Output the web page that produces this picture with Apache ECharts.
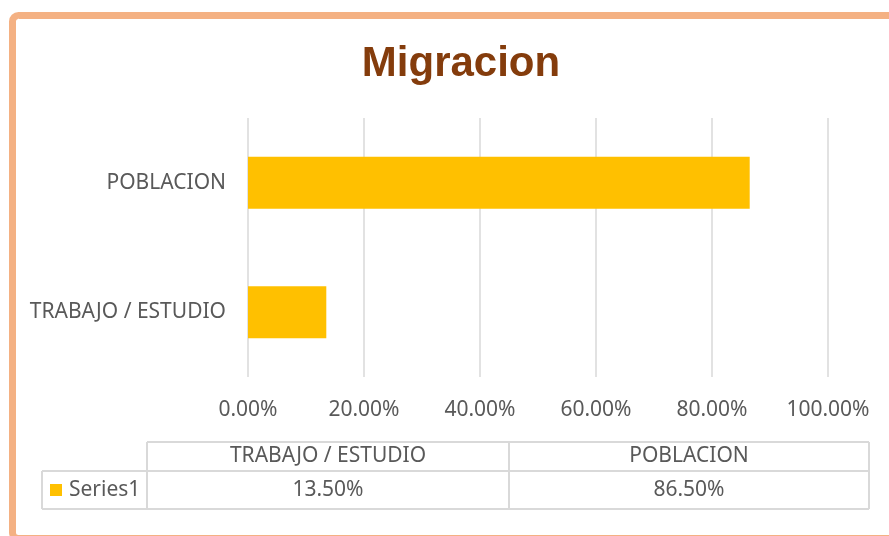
<!DOCTYPE html>
<html lang="es">
<head>
<meta charset="UTF-8">
<title>Migracion</title>
<script src="https://cdn.jsdelivr.net/npm/echarts@6/dist/echarts.min.js"></script>
<style>
  html, body { margin: 0; padding: 0; background: #fff; }
  #chart { width: 889px; height: 536px; }
</style>
</head>
<body>
<div id="chart"></div>
<script>
var categories = ['TRABAJO / ESTUDIO', 'POBLACION'];
var values = [0.135, 0.865];
var seriesName = 'Series1';
var tickValues = [0, 0.2, 0.4, 0.6, 0.8, 1];

function pct(v) { return (v * 100).toFixed(2) + '%'; }

var chart = echarts.init(document.getElementById('chart'));

// data table under the chart
var tbl = { x0: 42, x1: 147, x2: 509, x3: 869, y0: 442, y1: 471, y2: 509 };
var lineCol = '#D9D9D9';
var font = '"Noto Sans", "Open Sans", sans-serif';
var txtFont = '21px ' + font;
var tableGraphics = [];
function hline(x1, x2, y) {
  tableGraphics.push({ type: 'line', shape: { x1: x1, y1: y, x2: x2, y2: y }, style: { stroke: lineCol, lineWidth: 2 } });
}
function vline(x, y1, y2) {
  tableGraphics.push({ type: 'line', shape: { x1: x, y1: y1, x2: x, y2: y2 }, style: { stroke: lineCol, lineWidth: 2 } });
}
hline(tbl.x1, tbl.x3, tbl.y0);
hline(tbl.x0, tbl.x3, tbl.y1);
hline(tbl.x0, tbl.x3, tbl.y2);
vline(tbl.x0, tbl.y1, tbl.y2);
vline(tbl.x1, tbl.y0, tbl.y2);
vline(tbl.x2, tbl.y0, tbl.y2);
vline(tbl.x3, tbl.y0, tbl.y2);
var colX = [tbl.x1, tbl.x2, tbl.x3];
categories.forEach(function (c, i) {
  var cx = (colX[i] + colX[i + 1]) / 2;
  tableGraphics.push({ type: 'text', x: cx, y: (tbl.y0 + tbl.y1) / 2,
    style: { text: c, fill: '#595959', font: txtFont, align: 'center', verticalAlign: 'middle' } });
  tableGraphics.push({ type: 'text', x: cx, y: (tbl.y1 + tbl.y2) / 2,
    style: { text: pct(values[i]), fill: '#595959', font: txtFont, align: 'center', verticalAlign: 'middle' } });
});
tableGraphics.push({ type: 'rect', shape: { x: 50, y: 484, width: 12, height: 12 }, style: { fill: '#FFC000' } });
tableGraphics.push({ type: 'text', x: 69, y: (tbl.y1 + tbl.y2) / 2,
  style: { text: seriesName, fill: '#595959', font: txtFont, align: 'left', verticalAlign: 'middle' } });

var option = {
  backgroundColor: '#fff',
  animation: false,
  title: {
    text: 'Migracion',
    left: 456,
    textAlign: 'center',
    top: 38,
    textStyle: { fontFamily: '"Liberation Sans", Arial, sans-serif', fontSize: 42, fontWeight: 'bold', color: '#843C0C' }
  },
  grid: { left: 248, right: 61, top: 118, bottom: 159, containLabel: false },
  xAxis: {
    type: 'value',
    min: 0,
    max: 1,
    interval: 0.2,
    axisLine: { show: false },
    axisTick: { show: false },
    splitLine: { lineStyle: { color: '#D9D9D9', width: 1.5 } },
    axisLabel: {
      margin: 23,
      color: '#595959',
      fontFamily: font,
      fontSize: 21,
      formatter: function (v) { return tickValues.indexOf(Math.round(v * 10) / 10) >= 0 ? pct(v) : ''; }
    }
  },
  yAxis: {
    type: 'category',
    data: categories,
    axisLine: { show: false },
    axisTick: { show: false },
    axisLabel: { margin: 22, color: '#595959', fontFamily: font, fontSize: 21 }
  },
  series: [{
    name: seriesName,
    type: 'bar',
    data: values,
    barWidth: 52,
    itemStyle: { color: '#FFC000' }
  }],
  graphic: [{
    type: 'rect',
    shape: { x: 12.5, y: 15.5, width: 900, height: 523, r: 6 },
    style: { fill: 'none', stroke: '#F4B183', lineWidth: 7 }
  }].concat(tableGraphics)
};
chart.setOption(option);
</script>
</body>
</html>
